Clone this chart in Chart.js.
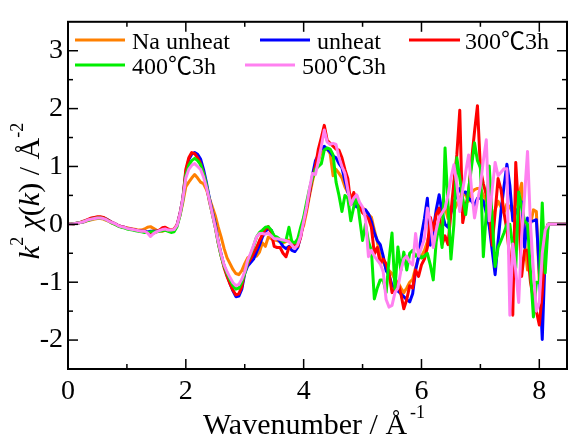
<!DOCTYPE html>
<html><head><meta charset="utf-8">
<script src="https://cdn.jsdelivr.net/npm/chart.js@4.4.0/dist/chart.umd.min.js"></script>
<style>html,body{margin:0;padding:0;background:#fff;overflow:hidden}canvas{display:block}</style>
</head><body>
<canvas id="c" width="568" height="437"></canvas>
<script>
const kValues = [
0,0.05,0.1,0.15,0.2,0.25,0.3,0.35,0.4,0.45,
0.5,0.55,0.6,0.65,0.7,0.75,0.8,0.85,0.9,0.95,
1,1.05,1.1,1.15,1.2,1.25,1.3,1.35,1.4,1.45,
1.5,1.55,1.6,1.65,1.7,1.75,1.8,1.85,1.9,1.95,
2,2.05,2.1,2.15,2.2,2.25,2.3,2.35,2.4,2.45,
2.5,2.55,2.6,2.65,2.7,2.75,2.8,2.85,2.9,2.95,
3,3.05,3.1,3.15,3.2,3.25,3.3,3.35,3.4,3.45,
3.5,3.55,3.6,3.65,3.7,3.75,3.8,3.85,3.9,3.95,
4,4.05,4.1,4.15,4.2,4.25,4.3,4.35,4.4,4.45,
4.5,4.55,4.6,4.65,4.7,4.75,4.8,4.85,4.9,4.95,
5,5.05,5.1,5.15,5.2,5.25,5.3,5.35,5.4,5.45,
5.5,5.55,5.6,5.65,5.7,5.75,5.8,5.85,5.9,5.95,
6,6.05,6.1,6.15,6.2,6.25,6.3,6.35,6.4,6.45,
6.5,6.55,6.6,6.65,6.7,6.75,6.8,6.85,6.9,6.95,
7,7.05,7.1,7.15,7.2,7.25,7.3,7.35,7.4,7.45,
7.5,7.55,7.6,7.65,7.7,7.75,7.8,7.85,7.9,7.95,
8,8.05,8.1,8.15,8.5];

const naUnheat = [
0,0,0.01,0.02,0.03,0.04,0.05,0.07,0.08,0.09,
0.10,0.10,0.09,0.07,0.05,0.02,0.00,-0.02,-0.04,-0.05,
-0.06,-0.07,-0.08,-0.09,-0.10,-0.10,-0.08,-0.05,-0.04,-0.07,
-0.10,-0.11,-0.12,-0.10,-0.09,-0.10,-0.08,-0.01,0.15,0.38,
0.65,0.73,0.80,0.86,0.80,0.73,0.70,0.60,0.45,0.30,
0.15,-0.05,-0.22,-0.42,-0.58,-0.68,-0.78,-0.85,-0.87,-0.80,
-0.68,-0.58,-0.55,-0.52,-0.55,-0.48,-0.32,-0.38,-0.22,-0.25,
-0.27,-0.28,-0.30,-0.32,-0.30,-0.27,-0.30,-0.35,-0.27,-0.15,
-0.02,0.22,0.50,0.75,0.95,1.10,1.25,1.30,1.30,1.22,
0.84,0.95,0.88,0.80,0.65,0.55,0.51,0.45,0.35,0.30,
0.28,0.25,0.17,0.12,-0.10,-0.30,-0.56,-0.65,-0.75,-0.80,
-0.85,-0.95,-1.00,-1.10,-1.18,-1.10,-1.00,-0.95,-0.75,-0.60,
-0.55,-0.45,-0.30,-0.10,0.00,-0.15,0.10,0.20,0.30,0.10,
0.30,0.23,0.35,0.45,0.56,0.50,0.40,0.55,0.60,0.62,
0.62,0.50,0.40,0.30,0.10,0.25,0.40,0.30,0.20,0.35,
0.30,0.20,0.35,0.50,0.71,-0.30,-0.79,0.00,0.25,0.22,
-1.00,-0.40,-0.10,0,0];

const unheat = [
0,0,0.01,0.02,0.03,0.04,0.06,0.08,0.10,0.11,
0.12,0.12,0.11,0.09,0.06,0.03,0.01,-0.02,-0.04,-0.05,
-0.07,-0.08,-0.09,-0.10,-0.11,-0.12,-0.12,-0.13,-0.12,-0.12,
-0.12,-0.11,-0.10,-0.09,-0.10,-0.11,-0.10,-0.02,0.18,0.45,
0.90,1.12,1.21,1.24,1.21,1.13,0.95,0.72,0.45,0.22,
0.00,-0.30,-0.52,-0.72,-0.88,-1.02,-1.15,-1.25,-1.24,-1.12,
-0.85,-0.72,-0.66,-0.60,-0.48,-0.36,-0.22,-0.12,-0.08,-0.10,
-0.22,-0.25,-0.30,-0.38,-0.42,-0.38,-0.45,-0.47,-0.40,-0.20,
0.08,0.30,0.55,0.85,1.10,1.20,1.30,1.35,1.30,1.25,
1.18,1.15,1.05,0.98,0.75,0.56,0.45,0.35,0.30,0.28,
0.25,0.25,0.18,0.05,-0.15,-0.28,-0.35,-0.55,-0.80,-0.88,
-1.05,-1.10,-1.15,-1.20,-1.25,-1.30,-1.34,-1.20,-0.80,-0.55,
-0.18,0.10,0.45,-0.36,-0.10,0.25,0.51,0.20,0.00,-0.05,
0.20,0.40,0.50,0.62,0.55,0.56,0.45,0.40,0.33,0.45,
0.45,0.40,0.20,-0.03,-0.45,-0.87,-0.30,0.23,0.65,1.04,
0.67,0.06,0.20,0.30,0.39,-0.40,0.11,0.05,0.06,0.08,
-0.80,-1.99,-0.50,0,0];

const heat300 = [
0,0,0.01,0.02,0.03,0.05,0.07,0.09,0.11,0.12,
0.13,0.13,0.12,0.09,0.06,0.03,0.01,-0.02,-0.04,-0.05,
-0.07,-0.08,-0.09,-0.10,-0.11,-0.12,-0.13,-0.14,-0.15,-0.15,
-0.13,-0.10,-0.06,-0.05,-0.08,-0.10,-0.09,-0.02,0.18,0.45,
0.95,1.15,1.24,1.22,1.15,1.05,0.88,0.66,0.40,0.18,
-0.05,-0.32,-0.55,-0.75,-0.90,-1.03,-1.14,-1.22,-1.20,-1.08,
-0.82,-0.68,-0.60,-0.50,-0.40,-0.28,-0.18,-0.08,-0.04,-0.15,
-0.38,-0.40,-0.40,-0.50,-0.56,-0.40,-0.38,-0.34,-0.38,-0.22,
0.05,0.28,0.55,0.80,1.00,1.30,1.50,1.71,1.45,1.40,
1.35,1.30,1.28,1.15,0.95,0.79,0.34,0.55,0.40,0.30,
0.20,0.15,0.10,-0.05,-0.51,-0.40,-0.68,-0.60,-0.68,-0.85,
-1.18,-1.10,-1.00,-1.20,-1.46,-1.30,-1.06,-1.10,-0.79,-0.90,
-0.70,-0.60,-0.40,0.12,-0.10,0.17,0.28,-0.35,-0.20,-0.35,
0.20,0.73,1.20,1.97,0.03,0.30,0.56,1.10,1.60,2.05,
0.96,0.70,0.51,0.20,-0.36,0.20,0.79,0.60,0.20,-0.10,
-0.60,-1.57,1.07,0.20,-0.90,-0.45,-0.45,-1.00,-1.29,-1.50,
-1.74,-1.20,-0.40,0,0];

const heat400 = [
0,0,0.01,0.02,0.03,0.04,0.06,0.07,0.09,0.10,
0.11,0.11,0.10,0.08,0.05,0.02,0.00,-0.03,-0.05,-0.06,
-0.08,-0.09,-0.10,-0.11,-0.12,-0.13,-0.14,-0.14,-0.13,-0.13,
-0.13,-0.12,-0.11,-0.10,-0.12,-0.14,-0.13,-0.04,0.15,0.42,
0.85,1.02,1.10,1.14,1.10,1.03,0.88,0.68,0.42,0.18,
-0.05,-0.32,-0.55,-0.72,-0.85,-0.96,-1.06,-1.12,-1.10,-1.00,
-0.85,-0.65,-0.52,-0.38,-0.22,-0.14,-0.10,-0.05,-0.04,-0.10,
-0.20,-0.22,-0.26,-0.30,-0.28,-0.05,-0.30,-0.32,-0.25,-0.05,
0.12,0.38,0.62,0.80,0.95,1.00,1.05,1.28,1.32,1.30,
1.20,0.73,0.50,0.22,0.50,0.45,0.06,0.30,0.50,0.10,
-0.28,0.00,-0.30,-0.45,-1.29,-1.10,-0.96,-0.96,-1.18,-0.60,
-0.15,-1.12,-0.39,-0.80,-0.48,-0.79,-0.50,-0.45,-0.55,-0.50,
-0.58,-0.55,-0.50,-0.70,-0.96,-0.30,0.00,-0.40,1.32,0.35,
-0.60,0.00,1.15,0.80,0.45,0.17,0.60,1.00,1.41,1.10,
0.98,-0.56,0.20,1.01,0.10,-0.73,-0.40,-0.28,-0.15,0.00,
0.00,-0.40,-0.76,0.56,0.30,0.06,0.00,-0.80,-1.60,-1.00,
-1.01,0.37,-0.84,0,0];

const heat500 = [
0,0,0.01,0.02,0.03,0.04,0.06,0.08,0.09,0.10,
0.11,0.11,0.10,0.08,0.05,0.03,0.01,-0.02,-0.04,-0.05,
-0.07,-0.08,-0.09,-0.10,-0.11,-0.12,-0.12,-0.15,-0.21,-0.16,
-0.13,-0.11,-0.09,-0.08,-0.10,-0.10,-0.09,-0.02,0.17,0.44,
0.80,0.95,1.02,1.05,1.00,0.95,0.82,0.64,0.42,0.18,
-0.05,-0.30,-0.52,-0.70,-0.82,-0.92,-1.01,-1.06,-1.04,-0.95,
-0.82,-0.62,-0.50,-0.36,-0.22,-0.16,-0.16,-0.17,-0.15,-0.20,
-0.25,-0.25,-0.26,-0.27,-0.28,-0.30,-0.36,-0.42,-0.35,-0.20,
0.05,0.30,0.62,0.88,0.86,1.10,1.35,1.63,1.42,1.38,
1.40,1.38,1.15,1.00,0.88,0.60,0.34,0.45,0.51,0.38,
0.30,0.10,-0.56,-0.45,-0.55,-0.62,-0.68,-0.82,-1.30,-1.43,
-1.40,-1.18,-1.10,-0.80,-0.60,-0.55,-0.65,-0.70,-0.16,-0.55,
-0.40,-0.25,0.28,0.05,-0.40,-0.10,0.12,0.20,0.28,0.50,
0.80,1.03,0.70,0.22,0.60,0.90,1.20,0.60,0.11,0.40,
0.67,1.10,1.46,0.06,0.60,1.07,0.84,0.90,0.96,0.96,
-1.57,-0.34,-0.80,-1.35,-0.20,0.50,1.26,0.00,-0.80,-1.50,
-1.35,-0.50,-0.10,0,0];

const seriesLabels = ['Na unheat', 'unheat', '300\u21033h', '400\u21033h', '500\u21033h'];
const seriesValues = [naUnheat, unheat, heat300, heat400, heat500];
const xTickLabels = [0, 2, 4, 6, 8];
const xMinorTicks = [1, 3, 5, 7];
const yTickLabels = [-2, -1, 0, 1, 2, 3];
const yMinorTicks = [-1.5, -0.5, 0.5, 1.5, 2.5];

const colors = ['#FF8000', '#0000FF', '#FF0000', '#00EE00', '#FF80F0'];
const SERIF = '"Liberation Serif", "Times New Roman", serif';
const CJK = '"Noto Sans CJK JP", "Noto Sans CJK SC", sans-serif';

const legendPos = [
  {x1: 75, x2: 125, tx: 132, ly: 40, by: 49},
  {x1: 260, x2: 310, tx: 317, ly: 40, by: 49},
  {x1: 409, x2: 460, tx: 465, ly: 40, by: 49},
  {x1: 75, x2: 125, tx: 132, ly: 65, by: 74},
  {x1: 245, x2: 295, tx: 302, ly: 65, by: 74}
];

function drawMixed(ctx, text, x, y, size) {
  // draw Latin/digit runs in the serif face and the degree-Celsius sign in a CJK face
  const runs = [];
  for (const ch of text) {
    const cjk = ch === '\u2103';
    if (runs.length && runs[runs.length - 1].cjk === cjk) runs[runs.length - 1].t += ch;
    else runs.push({t: ch, cjk});
  }
  let cx = x;
  runs.forEach(r => {
    ctx.font = size + 'px ' + (r.cjk ? CJK : SERIF);
    ctx.fillText(r.t, cx, y);
    cx += ctx.measureText(r.t).width;
  });
}

const decor = {
  id: 'decor',
  afterDatasetsDraw(chart) {
    const {ctx, chartArea: a, scales} = chart;
    const xs = scales.x, ys = scales.y;
    ctx.save();
    ctx.strokeStyle = '#000';
    ctx.lineWidth = 1.5;
    const tick = (x1, y1, x2, y2) => { ctx.beginPath(); ctx.moveTo(x1, y1); ctx.lineTo(x2, y2); ctx.stroke(); };
    xTickLabels.forEach(v => { const p = xs.getPixelForValue(v); tick(p, a.bottom, p, a.bottom - 10); tick(p, a.top, p, a.top + 10); });
    xMinorTicks.forEach(v => { const p = xs.getPixelForValue(v); tick(p, a.bottom, p, a.bottom - 5); tick(p, a.top, p, a.top + 5); });
    yTickLabels.forEach(v => { const p = ys.getPixelForValue(v); tick(a.left, p, a.left + 10, p); tick(a.right, p, a.right - 10, p); });
    yMinorTicks.forEach(v => { const p = ys.getPixelForValue(v); tick(a.left, p, a.left + 5, p); tick(a.right, p, a.right - 5, p); });
    ctx.lineWidth = 2;
    ctx.strokeRect(a.left, a.top, a.right - a.left, a.bottom - a.top);

    // legend
    ctx.textBaseline = 'alphabetic';
    ctx.textAlign = 'left';
    chart.data.datasets.forEach((ds, i) => {
      const p = legendPos[i];
      ctx.strokeStyle = ds.borderColor;
      ctx.lineWidth = 3;
      tick(p.x1, p.ly, p.x2, p.ly);
      ctx.fillStyle = '#000';
      drawMixed(ctx, ds.label, p.tx, p.by, 24);
    });

    // x title
    ctx.fillStyle = '#000';
    ctx.font = '30px ' + SERIF;
    const main = 'Wavenumber / \u00C5';
    const w1 = ctx.measureText(main).width;
    ctx.font = '18px ' + SERIF;
    const w2 = ctx.measureText('-1').width;
    const sx = 314 - (w1 + 3 + w2) / 2;
    ctx.font = '30px ' + SERIF;
    ctx.fillText(main, sx, 434);
    ctx.font = '18px ' + SERIF;
    ctx.fillText('-1', sx + w1 + 3, 418);

    // y title
    const parts = [
      {t: 'k', f: 'italic 30px ' + SERIF, dy: 0},
      {t: '2', f: '18px ' + SERIF, dy: -16},
      {t: ' ', f: '30px ' + SERIF, dy: 0},
      {t: '\u03C7', f: 'italic 30px ' + SERIF, dy: 0},
      {t: '(', f: '30px ' + SERIF, dy: 0},
      {t: 'k', f: 'italic 30px ' + SERIF, dy: 0},
      {t: ')', f: '30px ' + SERIF, dy: 0},
      {t: ' / \u00C5', f: '30px ' + SERIF, dy: 0},
      {t: '-2', f: '18px ' + SERIF, dy: -16}
    ];
    let total = 0;
    parts.forEach(p => { ctx.font = p.f; p.w = ctx.measureText(p.t).width; total += p.w; });
    ctx.translate(39, 191);
    ctx.rotate(-Math.PI / 2);
    let cx = -total / 2;
    parts.forEach(p => { ctx.font = p.f; ctx.fillText(p.t, cx, p.dy); cx += p.w; });
    ctx.restore();
  }
};

new Chart(document.getElementById('c').getContext('2d'), {
  type: 'line',
  data: {
    datasets: seriesLabels.map((lab, i) => ({
      label: lab,
      data: kValues.map((k, j) => ({x: k, y: seriesValues[i][j]})),
      borderColor: colors[i],
      backgroundColor: colors[i],
      borderWidth: 3,
      borderJoinStyle: 'round',
      pointRadius: 0,
      tension: 0,
      fill: false,
      order: 5 - i
    }))
  },
  options: {
    responsive: false,
    animation: false,
    devicePixelRatio: 1,
    layout: {padding: {top: 13, right: 1, left: 0, bottom: 0}},
    plugins: {legend: {display: false}, tooltip: {enabled: false}},
    scales: {
      x: {
        type: 'linear', min: 0, max: 8.47,
        afterBuildTicks: s => { s.ticks = xTickLabels.map(v => ({value: v})); },
        afterFit: s => { s.height = 68; },
        grid: {display: false, drawTicks: false},
        border: {display: false},
        ticks: {font: {family: SERIF, size: 28}, color: '#000', padding: 6, maxRotation: 0, autoSkip: false}
      },
      y: {
        type: 'linear', min: -2.5, max: 3.5,
        afterBuildTicks: s => { s.ticks = yTickLabels.map(v => ({value: v})); },
        afterFit: s => { s.width = 68; },
        grid: {display: false, drawTicks: false},
        border: {display: false},
        ticks: {font: {family: SERIF, size: 28}, color: '#000', padding: 5, autoSkip: false}
      }
    }
  },
  plugins: [decor]
});
</script>
</body></html>
